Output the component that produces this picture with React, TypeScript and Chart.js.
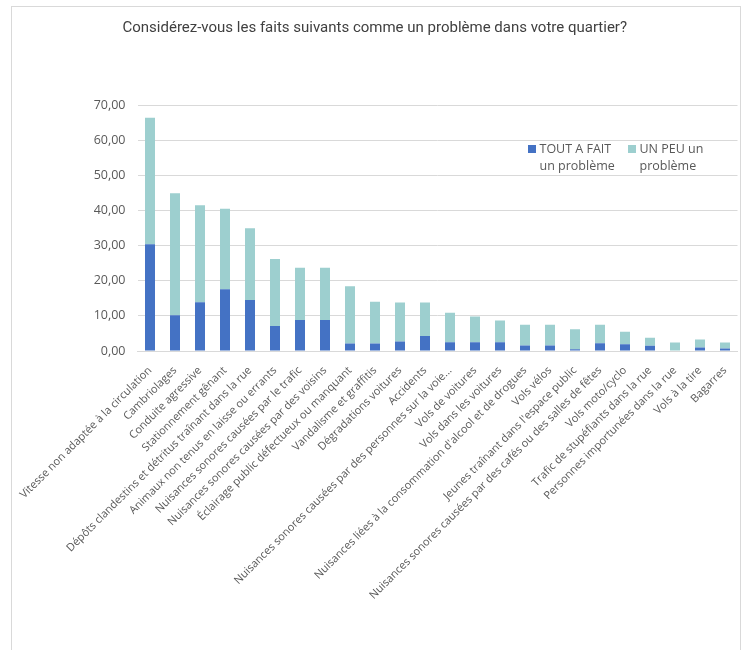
import React, { useEffect, useRef } from "react";
import { Chart, registerables } from "chart.js";

Chart.register(...registerables);

const TITLE = "Considérez-vous les faits suivants comme un problème dans votre quartier?";

const CATEGORIES = [
  "Vitesse non adaptée à la circulation",
  "Cambriolages",
  "Conduite agressive",
  "Stationnement gênant",
  "Dépôts clandestins et détritus traînant dans la rue",
  "Animaux non tenus en laisse ou errants",
  "Nuisances sonores causées par le trafic",
  "Nuisances sonores causées par des voisins",
  "Éclairage public défectueux ou manquant",
  "Vandalisme et graffitis",
  "Dégradations voitures",
  "Accidents",
  "Nuisances sonores causées par des personnes sur la voie...",
  "Vols de voitures",
  "Vols dans les voitures",
  "Nuisances liées à la consommation d'alcool et de drogues",
  "Vols vélos",
  "Jeunes traînant dans l'espace public",
  "Nuisances sonores causées par des cafés ou des salles de fêtes",
  "Vols moto/cyclo",
  "Trafic de stupéfiants dans la rue",
  "Personnes importunées dans la rue",
  "Vols à la tire",
  "Bagarres",
];

const SERIES_LABELS = ["TOUT A FAIT un problème", "UN PEU un problème"];

const TOUT_A_FAIT = [
  30.4, 10.2, 13.9, 17.6, 14.5, 7.1, 8.8, 8.8, 2.1, 2.1, 2.7, 4.3,
  2.5, 2.5, 2.5, 1.6, 1.6, 0.5, 2.2, 1.9, 1.5, 0.0, 1.0, 0.7,
];

const UN_PEU = [
  36.0, 34.7, 27.6, 22.9, 20.4, 19.1, 14.9, 14.9, 16.3, 11.9, 11.1, 9.5,
  8.4, 7.3, 6.2, 5.9, 5.9, 5.7, 5.3, 3.6, 2.3, 2.4, 2.3, 1.7,
];

const Y_MIN = 0;
const Y_MAX = 70;
const Y_STEP = 10;

const TEXT_COLOR = "#595959";
const FONT = "'Open Sans', 'Noto Sans', sans-serif";

function wrapText(ctx: CanvasRenderingContext2D, text: string, maxWidth: number): string[] {
  const words = text.split(" ");
  const lines: string[] = [];
  let cur = "";
  for (const w of words) {
    const test = cur ? cur + " " + w : w;
    if (cur && ctx.measureText(test).width > maxWidth) {
      lines.push(cur);
      cur = w;
    } else {
      cur = test;
    }
  }
  if (cur) lines.push(cur);
  return lines;
}

const customLegend = {
  id: "customLegend",
  afterDraw(chart: any) {
    const { ctx, chartArea } = chart;
    ctx.save();
    ctx.font = `12.5px ${FONT}`;
    ctx.textBaseline = "middle";
    ctx.textAlign = "left";
    const starts = [390.5, 490.5];
    const lineH = 17.5;
    const firstY = chartArea.top + 44;
    chart.data.datasets.forEach((ds: any, i: number) => {
      const x = chartArea.left + starts[i];
      ctx.fillStyle = ds.backgroundColor;
      ctx.fillRect(x, firstY - 4, 8, 8);
      ctx.fillStyle = TEXT_COLOR;
      const lines = wrapText(ctx, ds.label, 82);
      lines.forEach((ln, j) => {
        ctx.fillText(ln, x + 11.5, firstY + j * lineH);
      });
    });
    ctx.restore();
  },
};

export default function App() {
  const canvasRef = useRef<HTMLCanvasElement | null>(null);

  useEffect(() => {
    if (!canvasRef.current) return;
    const chart = new Chart(canvasRef.current, {
      type: "bar",
      data: {
        labels: CATEGORIES,
        datasets: [
          {
            label: SERIES_LABELS[0],
            data: TOUT_A_FAIT,
            backgroundColor: "#4472C4",
            categoryPercentage: 1,
            barPercentage: 0.4,
          },
          {
            label: SERIES_LABELS[1],
            data: UN_PEU,
            backgroundColor: "#9DCFCF",
            categoryPercentage: 1,
            barPercentage: 0.4,
          },
        ],
      },
      options: {
        animation: false,
        responsive: true,
        maintainAspectRatio: false,
        layout: { padding: { left: 0, right: 4.5, top: 0, bottom: 0 } },
        plugins: {
          legend: { display: false },
          tooltip: { enabled: false },
          title: {
            display: true,
            text: TITLE,
            color: "#404040",
            font: { family: "Roboto, 'Open Sans', sans-serif", size: 15, weight: "normal" },
            padding: { top: 12.5, bottom: 67.5 },
          },
        },
        scales: {
          x: {
            stacked: true,
            grid: { display: false, drawTicks: false },
            border: { display: true, color: "#D9D9D9" },
            ticks: {
              autoSkip: false,
              maxRotation: 45,
              minRotation: 45,
              color: TEXT_COLOR,
              padding: 13,
              font: { family: FONT, size: 11 },
            },
            afterFit(scale: any) {
              scale.height = 299;
              scale.paddingLeft = 0;
              scale.paddingRight = 0;
            },
          },
          y: {
            stacked: true,
            min: Y_MIN,
            max: Y_MAX,
            grid: { color: "#D9D9D9", drawTicks: false },
            border: { display: false },
            ticks: {
              stepSize: Y_STEP,
              padding: 12,
              color: TEXT_COLOR,
              font: { family: FONT, size: 12.5 },
              callback: (v: any) => Number(v).toFixed(2).replace(".", ","),
            },
            afterFit(scale: any) {
              scale.width = 125.5;
            },
          },
        },
      },
      plugins: [customLegend],
    });
    return () => chart.destroy();
  }, []);

  return (
    <>
      <div
        style={{
          position: "fixed",
          left: 11,
          top: 6,
          width: 730,
          height: 650,
          border: "1px solid #D9D9D9",
          borderBottom: "none",
          boxSizing: "border-box",
          background: "#fff",
        }}
      />
      <div style={{ position: "fixed", left: 12, top: 7, width: 730, height: 643 }}>
        <canvas ref={canvasRef} />
      </div>
    </>
  );
}
